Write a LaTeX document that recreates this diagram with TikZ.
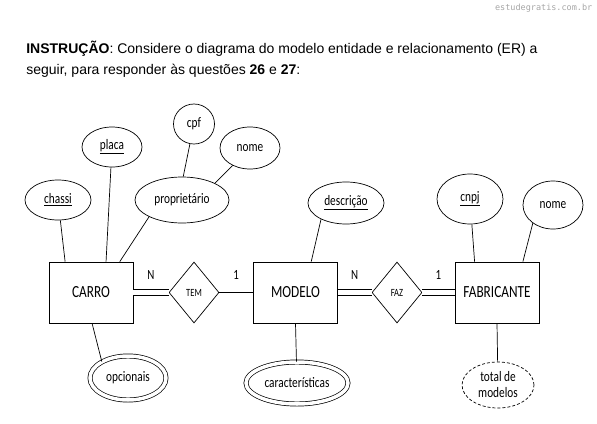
\documentclass[tikz,border=0pt]{standalone}
\usepackage{fontspec}
\usepackage{tikz}
\usetikzlibrary{shapes.geometric}
\setmainfont{Liberation Sans}
\newfontfamily\erfont[FakeStretch=0.78]{Carlito}
\newfontfamily\marcafont{DejaVu Sans Mono}
\tikzset{
  every path/.style={line width=0.7pt},
  entidade/.style={draw, rectangle, minimum width=84pt, minimum height=61pt, inner sep=0pt,
    font=\erfont\fontsize{17}{17}\selectfont},
  relac/.style={draw, diamond, minimum width=50pt, minimum height=61pt, inner sep=0pt,
    font=\erfont\fontsize{11}{11}\selectfont},
  atrib/.style={draw, ellipse, inner sep=0pt, font=\erfont\fontsize{14.5}{16}\selectfont, align=center},
  multi/.style={atrib, double, double distance=3.5pt},
  derivado/.style={atrib, dash pattern=on 3pt off 2pt},
  card/.style={font=\erfont\fontsize{14}{14}\selectfont},
  duplo/.style={double, double distance=5.5pt}
}

\begin{document}
\begin{tikzpicture}[x=1pt, y=-1pt]
  \useasboundingbox (0,0) rectangle (597,423);
  \node[anchor=base east, text=black!35, font=\marcafont\fontsize{8.5}{8.5}\selectfont] (marca) at (596,10) {estudegratis.com.br};
  \node[anchor=base west, inner sep=0pt, font=\fontsize{14}{16}\selectfont] (linha1) at (26,53)
    {\textbf{INSTRUÇÃO}: Considere o diagrama do modelo entidade e relacionamento (ER) a};
  \node[anchor=base west, inner sep=0pt, font=\fontsize{14}{16}\selectfont] (linha2) at (26,74)
    {seguir, para responder às questões \textbf{26} e \textbf{27}:};

  \node[entidade] (carro) at (91,292.5) {CARRO};
  \node[relac] (tem) at (194,292.5) {TEM};
  \node[entidade] (modelo) at (295.5,292.5) {MODELO};
  \node[relac] (faz) at (397,292.5) {FAZ};
  \node[entidade] (fabricante) at (497,292.5) {FABRICANTE};

  \node[atrib, minimum width=66pt, minimum height=40pt] (chassi) at (58,200) {\underline{chassi}};
  \node[atrib, minimum width=60pt, minimum height=40pt] (placa) at (112,147) {\underline{placa}};
  \node[atrib, minimum width=94pt, minimum height=46pt] (proprietario) at (182,200) {proprietário};
  \node[atrib, minimum width=41pt, minimum height=40pt] (cpf) at (194,124) {cpf};
  \node[atrib, minimum width=60pt, minimum height=42pt] (nome) at (250,148) {nome};
  \node[atrib, minimum width=76pt, minimum height=42pt] (descricao) at (346,203) {\underline{descrição}};
  \node[atrib, minimum width=66pt, minimum height=50pt] (cnpj) at (470,199) {\underline{cnpj}};
  \node[atrib, minimum width=60pt, minimum height=48pt] (nomefab) at (553,205) {nome};
  \node[multi, minimum width=76pt, minimum height=44pt] (opcionais) at (128,378) {opcionais};
  \node[multi, minimum width=102pt, minimum height=42pt] (caracteristicas) at (297,383) {características};
  \node[derivado, minimum width=72pt, minimum height=46pt] (total) at (498,385) {total de\\modelos};

  \draw (chassi) -- (carro.130);
  \draw (placa) -- (carro.64);
  \draw (proprietario.-153) -- (carro.47);
  \draw (cpf) -- (proprietario.87);
  \draw (nome) -- (proprietario.27);
  \draw (descricao.-147) -- (modelo.63);
  \draw (cnpj) -- (fabricante.126);
  \draw (nomefab.-138) -- (fabricante.50);
  \draw (carro.-88) -- (opcionais.148);
  \draw (modelo.south) -- (caracteristicas);
  \draw (fabricante.south) -- (total);

  \draw[duplo] (carro.east) -- node[card, above=9pt] {N} (tem.west);
  \draw (tem.east) -- node[card, above=9pt] {1} (modelo.west);
  \draw[duplo] (modelo.east) -- node[card, above=9pt] {N} (faz.west);
  \draw[duplo] (faz.east) -- node[card, above=9pt] {1} (fabricante.west);
\end{tikzpicture}
\end{document}
